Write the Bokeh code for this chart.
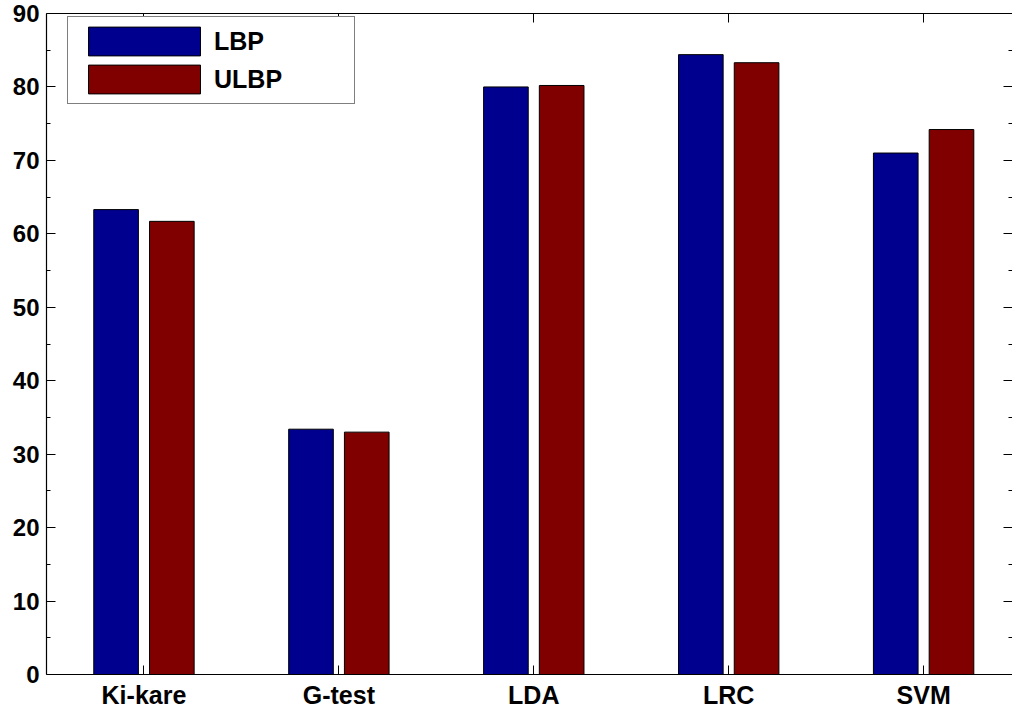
from bokeh.plotting import figure
from bokeh.models import Range1d, FixedTicker, LinearAxis, Legend, LegendItem, ColumnDataSource
from bokeh.transform import dodge
from bokeh.embed import file_html
from bokeh.resources import INLINE

categories = ["Ki-kare", "G-test", "LDA", "LRC", "SVM"]
lbp = [63.3, 33.4, 80.0, 84.4, 71.0]
ulbp = [61.7, 33.0, 80.2, 83.3, 74.2]
series_names = ["LBP", "ULBP"]
colors = ["#00008F", "#800000"]
y_ticks = [0, 10, 20, 30, 40, 50, 60, 70, 80, 90]
y_minor = [5, 15, 25, 35, 45, 55, 65, 75, 85]

xpos = list(range(1, len(categories) + 1))
src = ColumnDataSource(dict(x=xpos, lbp=lbp, ulbp=ulbp))

FONT = "Liberation Sans"

p = figure(width=1012, height=711, x_range=Range1d(0.5, 5.456), y_range=Range1d(0, 90),
           output_backend="svg", toolbar_location=None,
           min_border_left=46, min_border_right=0, min_border_top=13, min_border_bottom=37,
           x_axis_location=None, y_axis_location=None)
p.outline_line_color = None
p.grid.visible = False
p.background_fill_color = "white"
p.border_fill_color = "white"

r1 = p.vbar(x=dodge("x", -0.143, range=p.x_range), top="lbp", width=0.229, source=src,
            fill_color=colors[0], line_color="black", line_width=1)
r2 = p.vbar(x=dodge("x", 0.143, range=p.x_range), top="ulbp", width=0.229, source=src,
            fill_color=colors[1], line_color="black", line_width=1)

def style_axis(ax, size="24px"):
    ax.axis_line_color = "black"
    ax.axis_line_width = 1.2
    ax.major_tick_line_color = "black"
    ax.minor_tick_line_color = "black"
    ax.major_tick_out = 0
    ax.major_tick_in = 9
    ax.minor_tick_out = 0
    ax.minor_tick_in = 4
    ax.major_label_text_font = FONT
    ax.major_label_text_font_style = "bold"
    ax.major_label_text_color = "black"
    ax.major_label_text_font_size = size

# bottom x axis
xb = LinearAxis(ticker=FixedTicker(ticks=xpos))
xb.major_label_overrides = {i: c for i, c in zip(xpos, categories)}
style_axis(xb, "25px")
xb.major_label_standoff = 6
p.add_layout(xb, "below")

# top x axis (ticks only)
xt = LinearAxis(ticker=FixedTicker(ticks=xpos))
style_axis(xt)
xt.major_label_overrides = {i: "" for i in xpos}
xt.major_label_standoff = 0
p.add_layout(xt, "above")

# left y axis
yl = LinearAxis(ticker=FixedTicker(ticks=y_ticks, minor_ticks=y_minor))
style_axis(yl, "24px")
yl.major_label_standoff = 7
p.add_layout(yl, "left")

# right y axis (ticks only)
yr = LinearAxis(ticker=FixedTicker(ticks=y_ticks, minor_ticks=y_minor))
style_axis(yr)
yr.major_label_overrides = {t: "" for t in y_ticks}
yr.major_label_standoff = 0
yr.axis_line_color = None
p.add_layout(yr, "right")

legend = Legend(items=[LegendItem(label=series_names[0], renderers=[r1]),
                       LegendItem(label=series_names[1], renderers=[r2])],
                location=(21, 570), padding=6, margin=0, spacing=2,
                glyph_width=140, glyph_height=36, label_standoff=0, label_width=134,
                border_line_color="black", border_line_width=1,
                background_fill_color="white", background_fill_alpha=1,
                label_text_font=FONT, label_text_font_style="bold",
                label_text_font_size="25px", label_text_color="black")
p.add_layout(legend)

open("out.html", "w").write(file_html(p, INLINE))
